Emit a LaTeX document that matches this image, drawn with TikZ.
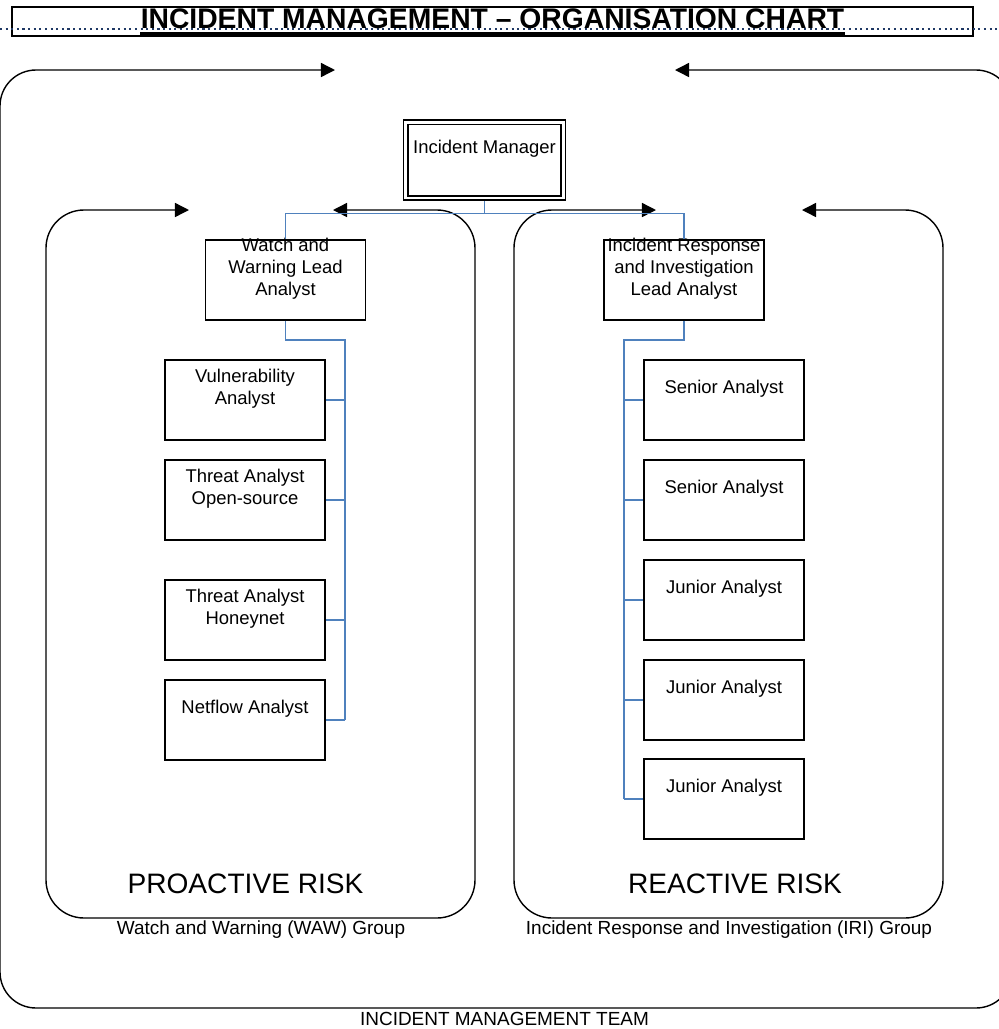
\documentclass[tikz,border=0pt]{standalone}
\usepackage{fontspec}
\setmainfont{Liberation Sans}
\usetikzlibrary{arrows.meta}

\definecolor{linkblue}{RGB}{79,129,189}
\definecolor{dotnavy}{RGB}{31,56,100}

\newcommand*{\xmax}{999}
\newcommand*{\ymax}{1029}

\begin{document}
\begin{tikzpicture}
[
	x=0.02cm, y=-0.02cm,
	role/.style={draw,fill=white,line width=0.8pt,minimum width=3.2cm,minimum height=1.6cm,inner sep=0pt,align=center,font=\fontsize{10.5}{12.5}\selectfont,text depth=0.51cm},
	lead/.style={role,text height=1.05cm,text depth=0.45cm},
	boss/.style={role,double,double distance=1.7pt,minimum width=3.15cm,minimum height=1.52cm},
	group/.style={line width=0.8pt,rounded corners=0.76cm,{Triangle[length=8pt,width=8pt]}-{Triangle[length=8pt,width=8pt]}},
	link/.style={draw=linkblue,line width=0.7pt},
	risk/.style={anchor=base,inner sep=0pt,font=\fontsize{16}{19}\selectfont},
	caption/.style={anchor=base,inner sep=0pt,font=\fontsize{10.8}{12.5}\selectfont}
]

	\useasboundingbox (0,0) rectangle (\xmax,\ymax);

	% title
	\draw[line width=0.8pt] (12,7) rectangle (973,36);
	\draw[dotnavy,dotted,line width=1.2pt] (0,29) -- (\xmax,29);
	\node[anchor=base,inner sep=0pt,font=\bfseries\fontsize{16.1}{18}\selectfont] at (492.5,28) (title) {INCIDENT MANAGEMENT – ORGANISATION CHART};
	\draw[line width=1.7pt] ([yshift=-3pt]title.base west) -- ([yshift=-3pt]title.base east);

	% team and groups
	\draw[group,rounded corners=0.72cm] (335,70) -- (0,70) -- (0,1008) -- (1012,1008) -- (1012,70) -- (675,70);
	\draw[group] (189,210) -- (46,210) -- (46,918) -- (475,918) -- (475,210) -- (333,210);
	\draw[group] (656,210) -- (514,210) -- (514,918) -- (943,918) -- (943,210) -- (802,210);

	% manager and leads
	\node[boss] at (484.5,160) (im) {Incident Manager};
	\node[lead] at (285.5,280) (waw) {Watch and\\Warning Lead\\Analyst};
	\node[lead] at (684,280) (iri) {Incident Response\\and Investigation\\Lead Analyst};

	% proactive analysts
	\node[role] at (245,400) (vuln) {Vulnerability\\Analyst};
	\node[role] at (245,500) (threatos) {Threat Analyst\\Open-source};
	\node[role] at (245,620) (threathn) {Threat Analyst\\Honeynet};
	\node[role] at (245,720) (netflow) {Netflow Analyst};

	% reactive analysts
	\node[role] at (724,400) (senior1) {Senior Analyst};
	\node[role] at (724,500) (senior2) {Senior Analyst};
	\node[role] at (724,600) (junior1) {Junior Analyst};
	\node[role] at (724,700) (junior2) {Junior Analyst};
	\node[role] at (724,799) (junior3) {Junior Analyst};

	% links from manager
	\draw[link,shorten <=1.5pt] (im.south) -- ++(0,15) -| (waw.north);
	\draw[link,shorten <=1.5pt] (im.south) -- ++(0,15) -| (iri.north);

	% links to proactive analysts
	\coordinate (wawbus) at (345,340);
	\draw[link] (waw.south) |- (wawbus) -- (wawbus |- netflow.east);
	\foreach \name in {vuln,threatos,threathn,netflow} {
		\draw[link] (wawbus |- \name.east) -- (\name.east);
	}

	% links to reactive analysts
	\coordinate (iribus) at (624,340);
	\draw[link] (iri.south) |- (iribus) -- (iribus |- junior3.west);
	\foreach \name in {senior1,senior2,junior1,junior2,junior3} {
		\draw[link] (iribus |- \name.west) -- (\name.west);
	}

	% group labels
	\node[risk] at (245.5,893) (proactive) {PROACTIVE RISK};
	\node[risk] at (735,893) (reactive) {REACTIVE RISK};
	\node[caption] at (261,934) (wawgroup) {Watch and Warning (WAW) Group};
	\node[caption] at (729,934) (irigroup) {Incident Response and Investigation (IRI) Group};
	\node[caption] at (504.5,1025) (team) {INCIDENT MANAGEMENT TEAM};

\end{tikzpicture}
\end{document}
